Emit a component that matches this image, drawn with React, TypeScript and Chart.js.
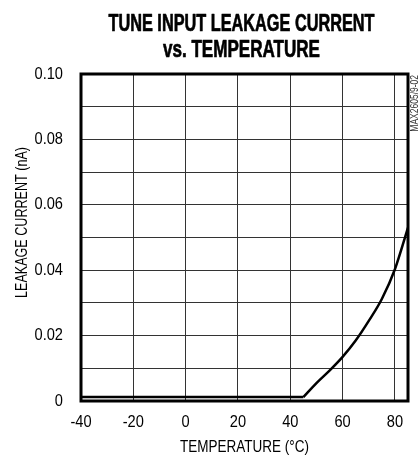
import React, { useEffect, useRef } from "react";
import { Chart, registerables } from "chart.js";

Chart.register(...registerables);

// ---- data ----
const xTickValues = [-40, -20, 0, 20, 40, 60, 80];
const xTickLabels = ["-40", "-20", "0", "20", "40", "60", "80"];
const yTickValues = [0, 0.01, 0.02, 0.03, 0.04, 0.05, 0.06, 0.07, 0.08, 0.09, 0.1];
const yTickLabels = ["0", "", "0.02", "", "0.04", "", "0.06", "", "0.08", "", "0.10"];

const flatTemps = [-40, 45];
const flatLeakage = [0.0012, 0.0012];

const riseTemps = [45, 50, 55, 60, 65, 70, 75, 80, 85];
const riseLeakage = [0.0012, 0.0055, 0.0093, 0.0135, 0.0185, 0.0245, 0.0312, 0.0403, 0.053];

const titleLines = ["TUNE INPUT LEAKAGE CURRENT", "vs. TEMPERATURE"];
const xTitle = "TEMPERATURE (°C)";
const yTitle = "LEAKAGE CURRENT (nA)";
const sideNote = "MAX2605/9-02";

const SANS = '"Liberation Sans", Arial, sans-serif';

function narrowText(
  ctx: CanvasRenderingContext2D,
  text: string,
  x: number,
  y: number,
  font: string,
  sx: number,
  align: CanvasTextAlign,
  rotate = 0,
  stroke = 0
) {
  ctx.save();
  ctx.translate(x, y);
  if (rotate) ctx.rotate(rotate);
  ctx.scale(sx, 1);
  ctx.font = font;
  ctx.textAlign = align;
  ctx.textBaseline = "middle";
  ctx.fillText(text, 0, 0);
  if (stroke) {
    ctx.lineWidth = stroke;
    ctx.lineJoin = "round";
    ctx.strokeStyle = ctx.fillStyle as string;
    ctx.strokeText(text, 0, 0);
  }
  ctx.restore();
}

function fitScale(ctx: CanvasRenderingContext2D, text: string, font: string, width: number) {
  ctx.save();
  ctx.font = font;
  const w = ctx.measureText(text).width;
  ctx.restore();
  return width / w;
}

const decorPlugin = {
  id: "decor",
  afterDatasetsDraw(chart: any) {
    const { ctx, chartArea } = chart;
    const { left, top, right, bottom } = chartArea;
    ctx.save();
    ctx.strokeStyle = "#000";
    ctx.lineWidth = 3;
    ctx.strokeRect(left, top, right - left, bottom - top);
    ctx.restore();
  },
  afterDraw(chart: any) {
    const { ctx, chartArea } = chart;
    const xs = chart.scales.x;
    const ys = chart.scales.y;
    ctx.save();
    ctx.fillStyle = "#000";

    // title (heavy condensed look)
    const tFont = `bold 24px ${SANS}`;
    narrowText(ctx, titleLines[0], 241.5, 24, tFont, fitScale(ctx, titleLines[0], tFont, 266), "center", 0, 0.7);
    narrowText(ctx, titleLines[1], 241.5, 50.5, tFont, fitScale(ctx, titleLines[1], tFont, 157), "center", 0, 0.7);

    // tick labels
    const tickFont = `17px ${SANS}`;
    xTickValues.forEach((v, i) => {
      narrowText(ctx, xTickLabels[i], xs.getPixelForValue(v), chartArea.bottom + 21, tickFont, 0.86, "center");
    });
    yTickValues.forEach((v, i) => {
      if (!yTickLabels[i]) return;
      narrowText(ctx, yTickLabels[i], chartArea.left - 18, ys.getPixelForValue(v), tickFont, 0.86, "right");
    });

    // axis titles
    const axFont = `17px ${SANS}`;
    narrowText(ctx, xTitle, (chartArea.left + chartArea.right) / 2, 447, axFont, fitScale(ctx, xTitle, axFont, 129), "center");
    narrowText(ctx, yTitle, 22, 222.5, axFont, fitScale(ctx, yTitle, axFont, 151), "center", -Math.PI / 2);

    // side note
    ctx.fillStyle = "#333";
    narrowText(ctx, sideNote, 415.5, 75, `10px ${SANS}`, 0.85, "right", -Math.PI / 2);
    ctx.restore();
  },
};

export default function App() {
  const ref = useRef<HTMLCanvasElement>(null);
  useEffect(() => {
    if (!ref.current) return;
    const chart = new Chart(ref.current, {
      type: "line",
      data: {
        datasets: [
          {
            data: flatTemps.map((t, i) => ({ x: t, y: flatLeakage[i] })),
            borderColor: "#000",
            borderWidth: 2.5,
            pointRadius: 0,
            tension: 0,
          },
          {
            data: riseTemps.map((t, i) => ({ x: t, y: riseLeakage[i] })),
            borderColor: "#000",
            borderWidth: 2.5,
            pointRadius: 0,
            cubicInterpolationMode: "monotone",
          },
        ],
      },
      options: {
        responsive: false,
        animation: false,
        layout: { padding: { left: 0, right: 11, top: 74, bottom: 0 } },
        plugins: { legend: { display: false }, tooltip: { enabled: false }, title: { display: false } },
        scales: {
          x: {
            type: "linear",
            min: -40,
            max: 85,
            afterBuildTicks: (s: any) => {
              s.ticks = xTickValues.map((v) => ({ value: v }));
            },
            afterFit: (s: any) => {
              s.height = 56;
            },
            grid: { color: "#333", lineWidth: 1, drawTicks: false },
            border: { display: false },
            ticks: { display: false },
          },
          y: {
            type: "linear",
            min: 0,
            max: 0.1,
            afterBuildTicks: (s: any) => {
              s.ticks = yTickValues.map((v) => ({ value: v }));
            },
            afterFit: (s: any) => {
              s.width = 81;
            },
            grid: { color: "#333", lineWidth: 1, drawTicks: false },
            border: { display: false },
            ticks: { display: false },
          },
        },
      },
      plugins: [decorPlugin],
    } as any);
    return () => chart.destroy();
  }, []);
  return (
    <div style={{ position: "fixed", left: 0, top: 0, width: 419, height: 457, background: "#fff" }}>
      <canvas ref={ref} width={419} height={457} style={{ width: 419, height: 457 }} />
    </div>
  );
}
